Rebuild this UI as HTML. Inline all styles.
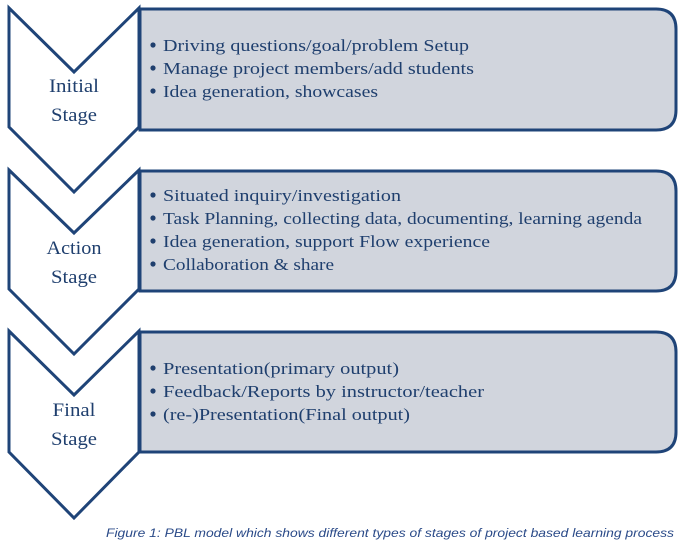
<!DOCTYPE html>
<html><head><style>body{margin:0;background:#fff}svg{display:block}</style></head><body>
<svg width="685" height="549" viewBox="0 0 685 549" xmlns="http://www.w3.org/2000/svg">
<g fill="#d1d5dd" stroke="#1f4478" stroke-width="3" stroke-linejoin="miter">
<path d="M140 9 H656 Q676 9 676 29 V110 Q676 130 656 130 H140 Z"/>
<path d="M140 171 H656 Q676 171 676 191 V271 Q676 291 656 291 H140 Z"/>
<path d="M140 332 H656 Q676 332 676 352 V432 Q676 452 656 452 H140 Z"/>
</g>
<g fill="#fff" stroke="#1f4478" stroke-width="3" stroke-linejoin="miter">
<path d="M9 8 L74 72 L139 8 V127 L74 192 L9 127 Z"/>
<path d="M9 170 L74 233 L139 170 V289 L74 354 L9 289 Z"/>
<path d="M9 331 L74 395 L139 331 V452 L74 518 L9 452 Z"/>
</g>
<g font-family="Liberation Serif, serif" font-size="19" fill="#1f3f6e" text-anchor="middle">
<text x="74" y="92" textLength="50" lengthAdjust="spacingAndGlyphs">Initial</text><text x="74" y="121" textLength="46" lengthAdjust="spacingAndGlyphs">Stage</text>
<text x="74" y="254" textLength="55" lengthAdjust="spacingAndGlyphs">Action</text><text x="74" y="283" textLength="46" lengthAdjust="spacingAndGlyphs">Stage</text>
<text x="74" y="416" textLength="43" lengthAdjust="spacingAndGlyphs">Final</text><text x="74" y="445" textLength="46" lengthAdjust="spacingAndGlyphs">Stage</text>
</g>
<g fill="#1f3f6e">
<circle cx="153" cy="45" r="2.6"/><circle cx="153" cy="68" r="2.6"/><circle cx="153" cy="91" r="2.6"/>
<circle cx="153" cy="195" r="2.6"/><circle cx="153" cy="218" r="2.6"/><circle cx="153" cy="241" r="2.6"/><circle cx="153" cy="264" r="2.6"/>
<circle cx="153" cy="368" r="2.6"/><circle cx="153" cy="391" r="2.6"/><circle cx="153" cy="414" r="2.6"/>
</g>
<g font-family="Liberation Serif, serif" font-size="17" fill="#1f3f6e">
<text x="163" y="51" textLength="306" lengthAdjust="spacingAndGlyphs">Driving questions/goal/problem Setup</text>
<text x="163" y="74" textLength="311" lengthAdjust="spacingAndGlyphs">Manage project members/add students</text>
<text x="163" y="97" textLength="215" lengthAdjust="spacingAndGlyphs">Idea generation, showcases</text>
<text x="163" y="201" textLength="238" lengthAdjust="spacingAndGlyphs">Situated inquiry/investigation</text>
<text x="163" y="224" textLength="479" lengthAdjust="spacingAndGlyphs">Task Planning, collecting data, documenting, learning agenda</text>
<text x="163" y="247" textLength="327" lengthAdjust="spacingAndGlyphs">Idea generation, support Flow experience</text>
<text x="163" y="270" textLength="171" lengthAdjust="spacingAndGlyphs">Collaboration &amp; share</text>
<text x="163" y="374" textLength="236" lengthAdjust="spacingAndGlyphs">Presentation(primary output)</text>
<text x="163" y="397" textLength="321" lengthAdjust="spacingAndGlyphs">Feedback/Reports by instructor/teacher</text>
<text x="163" y="420" textLength="247" lengthAdjust="spacingAndGlyphs">(re-)Presentation(Final output)</text>
</g>
<text x="106" y="537" font-family="Liberation Sans, sans-serif" font-size="12" font-style="italic" fill="#2a4a88" textLength="568" lengthAdjust="spacingAndGlyphs">Figure 1: PBL model which shows different types of stages of project based learning process</text>
</svg>
</body></html>
